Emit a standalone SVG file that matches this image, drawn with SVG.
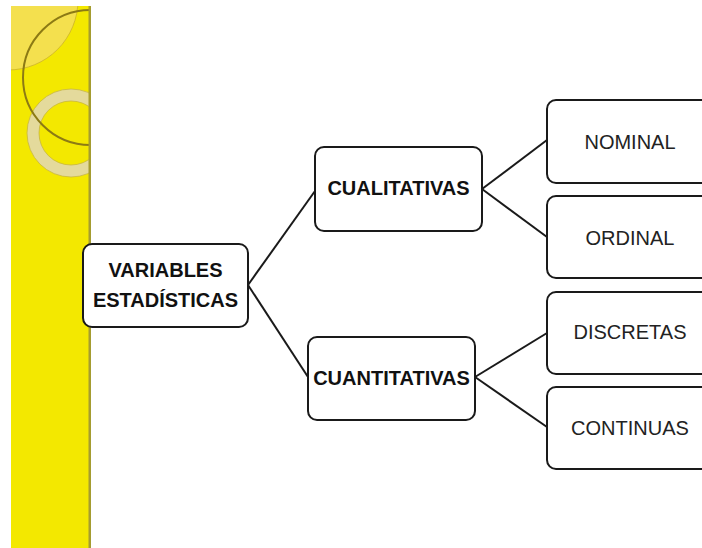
<svg xmlns="http://www.w3.org/2000/svg" width="702" height="548" viewBox="0 0 702 548">
<style>
.box{fill:#fff;stroke:#1a1a1a;stroke-width:2}
.b{font-family:"Liberation Sans",Arial,sans-serif;font-weight:bold;font-size:20px;fill:#111;text-anchor:middle}
.r{font-family:"Liberation Sans",Arial,sans-serif;font-size:20px;fill:#222;text-anchor:middle}
.ln{stroke:#1a1a1a;stroke-width:2;fill:none}
</style>
<defs>
<clipPath id="band"><rect x="11" y="6" width="80" height="542"/></clipPath>
</defs>
<rect width="702" height="548" fill="#fff"/>
<g id="decor">
<rect x="11" y="6" width="80" height="542" fill="#f3e800"/>
<g clip-path="url(#band)">
<circle cx="8" cy="0" r="70" fill="#f4e04e" stroke="#cdb22a" stroke-width="0.8"/>
<circle cx="71" cy="133" r="38" fill="none" stroke="#e4da9c" stroke-width="12"/>
<circle cx="71" cy="133" r="44" fill="none" stroke="#c8b640" stroke-width="0.8"/>
<circle cx="71" cy="133" r="32" fill="none" stroke="#c8b640" stroke-width="0.8"/>
<circle cx="90.5" cy="77.5" r="67.5" fill="none" stroke="#8c7a14" stroke-width="2"/>
</g>
<rect x="88.5" y="6" width="2.5" height="542" fill="#a59c30"/>
</g>
<g id="connectors">
<line class="ln" x1="248" y1="285" x2="315" y2="191"/>
<line class="ln" x1="248" y1="285" x2="308" y2="377"/>
<line class="ln" x1="482" y1="189" x2="547" y2="140"/>
<line class="ln" x1="482" y1="189" x2="547" y2="237"/>
<line class="ln" x1="475" y1="377" x2="547" y2="333"/>
<line class="ln" x1="475" y1="377" x2="547" y2="427"/>
</g>
<g id="variables">
<rect class="box" x="83" y="244" width="165" height="83" rx="9"/>
<text class="b" x="165.5" y="277">VARIABLES</text>
<text class="b" x="165.5" y="307">ESTADÍSTICAS</text>
</g>
<g id="cualitativas">
<rect class="box" x="315" y="147" width="167" height="84" rx="9"/>
<text class="b" x="398.5" y="195">CUALITATIVAS</text>
</g>
<g id="cuantitativas">
<rect class="box" x="308" y="337" width="167" height="83" rx="9"/>
<text class="b" x="391.5" y="385">CUANTITATIVAS</text>
</g>
<g id="nominal">
<rect class="box" x="547" y="100" width="170" height="83" rx="9"/>
<text class="r" x="630" y="149">NOMINAL</text>
</g>
<g id="ordinal">
<rect class="box" x="547" y="196" width="170" height="82" rx="9"/>
<text class="r" x="630" y="245">ORDINAL</text>
</g>
<g id="discretas">
<rect class="box" x="547" y="292" width="170" height="82" rx="9"/>
<text class="r" x="630" y="339">DISCRETAS</text>
</g>
<g id="continuas">
<rect class="box" x="547" y="387" width="170" height="82" rx="9"/>
<text class="r" x="630" y="435">CONTINUAS</text>
</g>
</svg>
